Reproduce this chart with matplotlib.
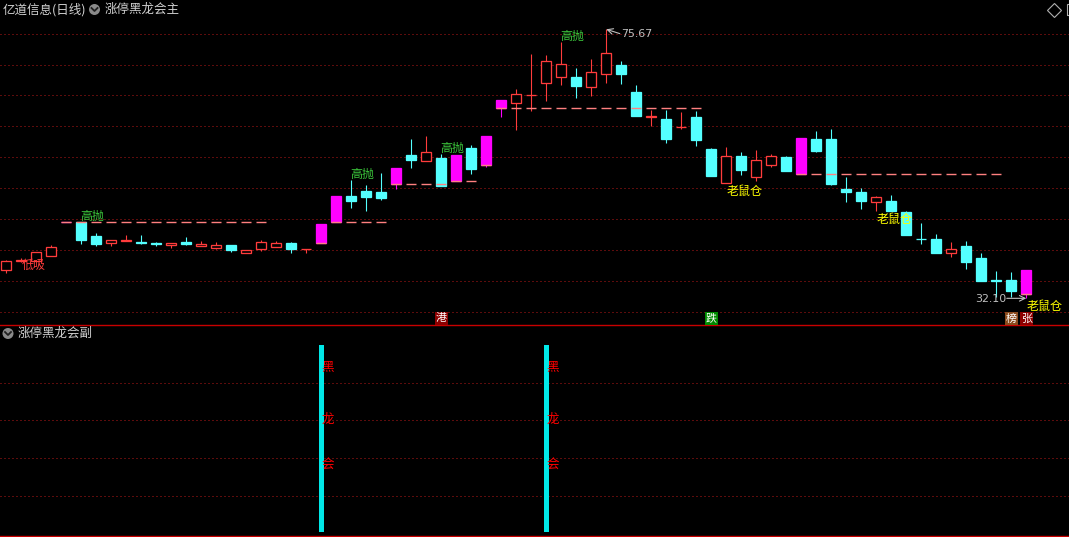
import matplotlib
matplotlib.use('Agg')
import matplotlib.pyplot as plt
from matplotlib.patches import Rectangle, Ellipse
from matplotlib.lines import Line2D
import matplotlib.transforms as mtransforms

plt.rcParams['font.family'] = ['Noto Sans CJK SC', 'DejaVu Sans']

# ---------------- data ----------------
title_main = '亿道信息(日线)'
indicator_main = '涨停黑龙会主'
indicator_sub = '涨停黑龙会副'

opens = [36.73, 38.22, 38.19, 39.00, 44.41, 44.41, 42.19, 41.11, 41.38, 41.22,
         40.98, 40.78, 41.22, 40.62, 40.30, 40.73, 39.49, 40.09, 40.46, 41.06,
         40.04, 41.11, 44.41, 48.67, 49.48, 49.32, 50.56, 55.31, 54.39, 54.82,
         51.15, 56.44, 53.74, 62.87, 63.68, 64.95, 66.92, 67.90, 67.94, 66.37,
         68.38, 69.89, 65.52, 61.39, 61.14, 59.77, 61.47, 56.28, 50.82, 55.15,
         51.80, 53.74, 54.99, 52.19, 57.90, 57.90, 49.80, 49.32, 47.75, 47.86,
         46.08, 41.75, 41.71, 39.49, 40.57, 38.63, 35.06, 35.06, 32.75]
highs = [38.38, 38.63, 39.60, 40.73, 44.41, 44.45, 42.68, 41.54, 42.35, 42.35,
         41.22, 41.06, 42.03, 41.38, 41.22, 40.73, 39.92, 41.50, 41.38, 41.22,
         40.09, 44.13, 48.67, 51.26, 50.45, 52.35, 53.21, 57.90, 58.39, 55.47,
         55.31, 56.93, 58.39, 64.22, 66.00, 71.67, 71.51, 73.61, 69.35, 70.86,
         75.67, 70.54, 66.65, 62.60, 62.60, 62.28, 62.44, 56.44, 56.61, 55.80,
         56.12, 55.47, 55.15, 58.06, 59.20, 59.52, 51.75, 49.97, 48.67, 48.83,
         46.24, 44.30, 42.52, 41.27, 41.38, 39.44, 36.52, 36.36, 36.68]
lows = [36.28, 37.98, 38.14, 38.98, 44.41, 40.90, 40.57, 40.57, 41.38, 40.90,
        40.57, 40.30, 40.81, 40.62, 40.04, 39.65, 39.49, 39.81, 40.46, 39.49,
        39.49, 41.11, 44.41, 46.78, 46.29, 48.07, 49.76, 53.21, 54.39, 50.34,
        51.15, 52.23, 53.37, 61.51, 59.36, 62.49, 64.11, 66.65, 64.59, 64.92,
        66.92, 66.81, 61.68, 60.01, 57.30, 59.57, 56.77, 51.96, 50.82, 52.07,
        51.10, 53.37, 52.72, 52.19, 55.80, 50.45, 47.70, 46.56, 46.29, 46.24,
        42.40, 40.90, 39.49, 38.84, 36.89, 34.95, 32.26, 32.36, 32.10]
closes = [38.14, 38.27, 39.55, 40.41, 44.41, 41.54, 40.90, 41.54, 41.54, 41.14,
          40.90, 41.06, 40.90, 40.94, 40.68, 39.92, 39.92, 41.22, 41.06, 40.09,
          40.09, 44.13, 48.67, 47.91, 48.56, 48.39, 53.21, 54.50, 55.80, 50.34,
          55.31, 53.04, 58.39, 64.22, 65.19, 65.03, 70.49, 70.05, 66.54, 68.71,
          71.78, 68.48, 61.68, 61.66, 57.95, 59.85, 57.79, 51.96, 55.15, 52.88,
          54.50, 55.15, 52.72, 58.06, 55.96, 50.61, 49.37, 47.86, 48.51, 46.24,
          42.40, 41.67, 39.49, 40.13, 38.03, 34.95, 34.97, 33.33, 36.68]

limit_up_days = [4, 21, 22, 26, 30, 32, 33, 53, 68]
# reference (dashed) lines after limit-up days
ref_start = [4, 21, 22, 26, 30, 32, 33, 53, 68]
ref_end = [17, 21, 25, 29, 31, 32, 46, 66, 68]
ref_level = [44.41, 41.11, 44.41, 50.56, 51.15, 53.74, 62.87, 52.19, 32.75]

sell_days = [5, 23, 29, 37]          # 高抛
buy_days = [1]                        # 低吸
rat_days = [48, 58, 68]               # 老鼠仓
sell_text, buy_text, rat_text = '高抛', '低吸', '老鼠仓'

badge_days = [29, 47, 67, 68]
badge_text = ['港', '跌', '榜', '张']
badge_color = ['#8c0000', '#008a00', '#8b4a1c', '#8c0000']

max_day, max_value = 40, 75.67
min_day, min_value = 68, 32.10

main_grid = [74.86, 69.89, 64.98, 60.01, 55.03, 49.97, 44.94, 39.92, 34.90, 29.88]

sub_days = [21, 36]
sub_value = 100
sub_chars = ['黑', '龙', '会']
sub_char_levels = [88, 60, 36]
sub_grid = [19.0, 39.3, 59.7, 79.5]

# ---------------- styles ----------------
W, H = 1069, 537
BG = '#000000'
RED = '#ff3c3c'
CYAN = '#54ffff'
MAG = '#ff00ff'
GRID = '#b81818'
BORDER = '#c80000'
DASH = '#ff8080'
GREEN = '#3cc83c'
YELLOW = '#ffff00'
GRAY = '#c0c0c0'
px = 72.0 / 100  # points per pixel

fig = plt.figure(figsize=(W / 100, H / 100), dpi=100, facecolor=BG)


def fy(y):
    return 1 - y / H


ax = fig.add_axes([0, fy(325), 1, fy(18) - fy(325)], facecolor=BG)
ax2 = fig.add_axes([0, fy(535.5), 1, fy(340) - fy(535.5)], facecolor=BG)

n = len(opens)
xlim = (-0.42, 70.85)
for a in (ax, ax2):
    a.set_xlim(*xlim)
    for s in ('top', 'left', 'right'):
        a.spines[s].set_visible(False)
    a.spines['bottom'].set_color(BORDER)
    a.spines['bottom'].set_linewidth(1.4 * px)
    a.set_xticks([])
    a.set_yticks([])

ax.set_ylim(27.78, 77.50)
ax2.set_ylim(-1.93, 102.68)

# grids (sparse 1px dots)
for g in main_grid:
    ax.axhline(g, color=GRID, lw=1.0 * px, linestyle=(0, (1, 3)), zorder=0)
for g in sub_grid:
    ax2.axhline(g, color=GRID, lw=1.0 * px, linestyle=(0, (1, 3)), zorder=0)

# candles
bw = 0.68
for i in range(n):
    o, h, l, c = opens[i], highs[i], lows[i], closes[i]
    if i in limit_up_days:
        col, face = MAG, MAG
    elif c >= o:
        col, face = RED, BG
    else:
        col, face = CYAN, CYAN
    ax.vlines(i, l, h, color=col, lw=1.1 * px, zorder=2)
    bottom = min(o, c)
    height = max(abs(c - o), 0.02)
    ax.bar(i, height, bottom=bottom, width=bw, color=face, edgecolor=col,
           linewidth=1.3 * px, zorder=3)

# dashed reference lines
for s, e, lev in zip(ref_start, ref_end, ref_level):
    for i in range(s, e + 1):
        ax.hlines(lev, i - 0.33, i + 0.33, color=DASH, lw=1.4 * px, zorder=4)

# labels
fs_lab = 12 * px
for d in sell_days:
    ax.annotate(sell_text, (d, highs[d]), xytext=(-1, -1), textcoords='offset pixels',
                ha='left', va='bottom', color=GREEN, fontsize=fs_lab, zorder=6)
for d in buy_days:
    ax.annotate(buy_text, (d, lows[d]), xytext=(0, 3), textcoords='offset pixels',
                ha='left', va='top', color=RED, fontsize=fs_lab, zorder=6)
for d in rat_days:
    ax.annotate(rat_text, (d, lows[d]), xytext=(0, -2), textcoords='offset pixels',
                ha='left', va='top', color=YELLOW, fontsize=fs_lab, zorder=6)

# max / min markers
ax.annotate('', xy=(max_day, max_value), xytext=(max_day + 0.9, max_value - 0.7),
            arrowprops=dict(arrowstyle='->', color=GRAY, lw=0.8, shrinkA=0, shrinkB=0),
            zorder=6)
ax.annotate('%.2f' % max_value, (max_day, max_value), xytext=(15, -5),
            textcoords='offset pixels', ha='left', va='center', color=GRAY,
            fontsize=11 * px, family='DejaVu Sans', zorder=6)
ax.annotate('', xy=(min_day, min_value), xytext=(min_day - 1.3, min_value),
            arrowprops=dict(arrowstyle='->', color=GRAY, lw=0.8, shrinkA=0, shrinkB=0),
            zorder=6)
ax.annotate('%.2f' % min_value, (min_day - 1.3, min_value), xytext=(0, -1),
            textcoords='offset pixels', ha='right', va='center', color=GRAY,
            fontsize=11 * px, family='DejaVu Sans', zorder=6)

# badges at bottom of main panel
trans = mtransforms.blended_transform_factory(ax.transData, ax.transAxes)
bh = 13.0 / 307
for d, t, bc in zip(badge_days, badge_text, badge_color):
    ax.add_patch(Rectangle((d - 0.43, 0.0), 0.86, bh, transform=trans, facecolor=bc,
                           edgecolor='none', zorder=7, clip_on=False))
    ax.text(d, bh / 2, t, transform=trans, ha='center', va='center', color='white',
            fontsize=11 * px, zorder=8)

# sub panel bars
ax2.bar(sub_days, [sub_value] * len(sub_days), width=0.36, bottom=0, color='#00e8e8',
        zorder=3)
for d in sub_days:
    for ch, lev in zip(sub_chars, sub_char_levels):
        ax2.text(d, lev, ch, ha='left', va='center', color='#ff0000',
                 fontsize=12.5 * px, zorder=5)

# headers
def header_icon(x, y):
    fig.add_artist(Ellipse((x / W, fy(y)), 11 / W, 11 / H, transform=fig.transFigure,
                           facecolor='#8a8a8a', edgecolor='none'))
    fig.add_artist(Line2D([(x - 3) / W, x / W, (x + 3) / W],
                          [fy(y - 1.5), fy(y + 1.5), fy(y - 1.5)],
                          transform=fig.transFigure, color='#202020', lw=1.3))

fig.text(3 / W, fy(9.5), title_main, ha='left', va='center', color='#d0d0d0',
         fontsize=12.5 * px)
header_icon(94.5, 9.5)
fig.text(105 / W, fy(9.5), indicator_main, ha='left', va='center', color='#d0d0d0',
         fontsize=12.5 * px)
header_icon(8, 333.5)
fig.text(18 / W, fy(333.5), indicator_sub, ha='left', va='center', color='#d0d0d0',
         fontsize=12.5 * px)

# top-right icons
fig.add_artist(Line2D([1054 / W], [fy(9.5)], marker='D', markersize=7.5,
                      markerfacecolor='none', markeredgecolor='#b0b0b0',
                      markeredgewidth=0.8, transform=fig.transFigure))
fig.add_artist(Rectangle((1066.5 / W, fy(15)), 10 / W, 11 / H, transform=fig.transFigure,
                         facecolor='none', edgecolor='#b0b0b0', lw=0.8))

fig.savefig('out.png', dpi=100, facecolor=BG)
